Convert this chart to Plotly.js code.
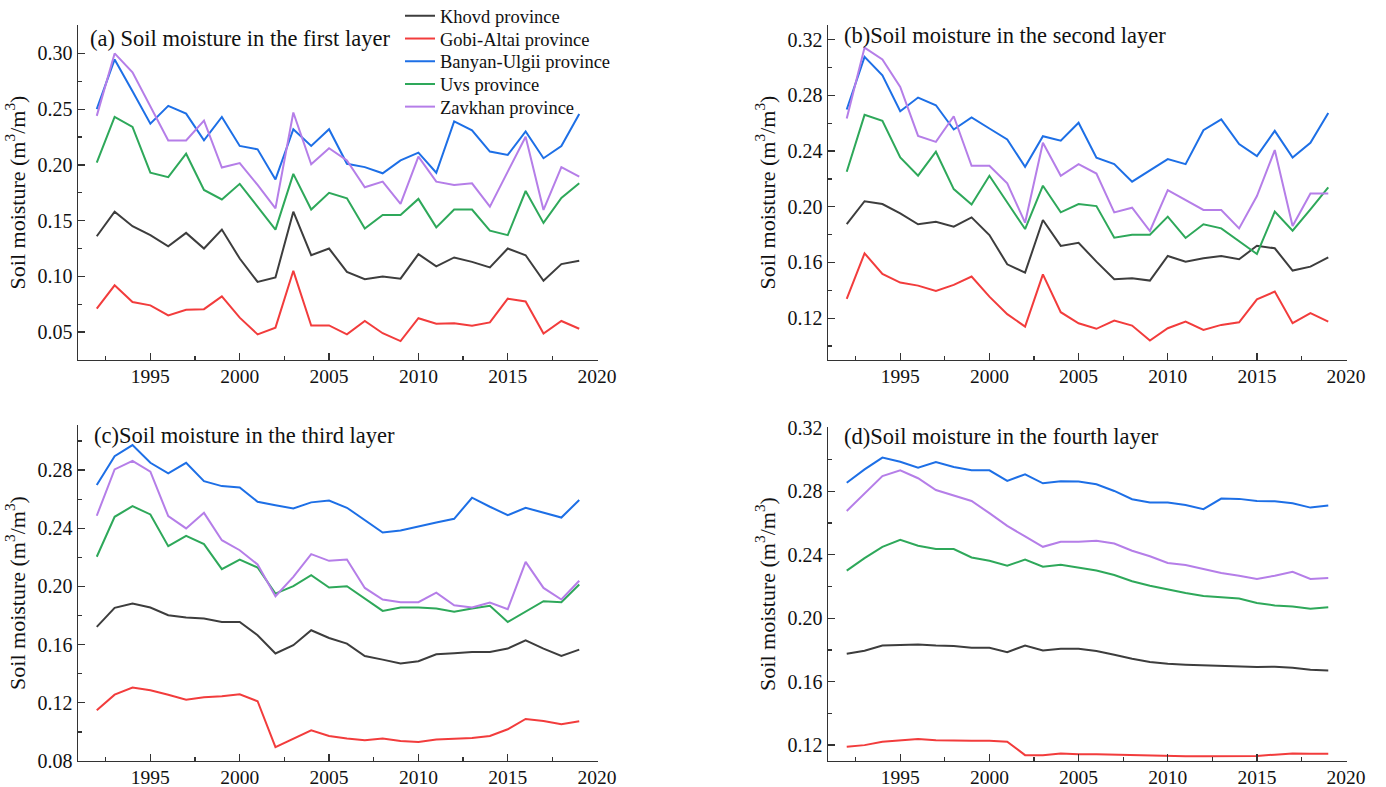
<!DOCTYPE html>
<html><head><meta charset="utf-8">
<script src="https://cdn.plot.ly/plotly-3.0.1.min.js"></script>
<style>html,body{margin:0;padding:0;background:#fff}#chart{width:1386px;height:787px}</style>
</head><body><div id="chart"></div>
<script>
const years = [1992,1993,1994,1995,1996,1997,1998,1999,2000,2001,2002,2003,2004,2005,2006,2007,2008,2009,2010,2011,2012,2013,2014,2015,2016,2017,2018,2019];
const provinces = ["Khovd province","Gobi-Altai province","Banyan-Ulgii province","Uvs province","Zavkhan province"];
const panelTitles = ["(a) Soil moisture in the first layer","(b)Soil moisture in the second layer","(c)Soil moisture in the third layer","(d)Soil moisture in the fourth layer"];
const yTitle = "Soil moisture (m<sup>3</sup>/m<sup>3</sup>)";

// Layer 1
const khovdL1 = [0.136,0.158,0.145,0.137,0.127,0.139,0.125,0.142,0.116,0.095,0.099,0.158,0.119,0.125,0.104,0.0975,0.100,0.098,0.120,0.109,0.117,0.113,0.108,0.125,0.119,0.096,0.111,0.114];
const gobiL1 = [0.071,0.092,0.077,0.074,0.065,0.070,0.0706,0.082,0.063,0.048,0.054,0.105,0.056,0.056,0.048,0.060,0.049,0.042,0.0625,0.0575,0.058,0.0557,0.0587,0.080,0.0775,0.0488,0.060,0.053];
const banyanL1 = [0.250,0.2946,0.266,0.237,0.253,0.246,0.222,0.243,0.217,0.214,0.187,0.232,0.217,0.232,0.201,0.198,0.1925,0.204,0.211,0.193,0.239,0.231,0.212,0.209,0.230,0.206,0.217,0.2456];
const uvsL1 = [0.202,0.243,0.234,0.193,0.189,0.210,0.1775,0.169,0.183,0.1626,0.142,0.192,0.160,0.175,0.170,0.143,0.155,0.155,0.1695,0.144,0.160,0.160,0.141,0.137,0.1766,0.148,0.1704,0.1835];
const zavkhanL1 = [0.244,0.300,0.283,0.252,0.222,0.222,0.2397,0.1976,0.2017,0.182,0.161,0.247,0.2005,0.215,0.204,0.180,0.185,0.165,0.2074,0.185,0.182,0.1835,0.1626,0.194,0.2253,0.1596,0.198,0.1895];

// Layer 2
const khovdL2 = [0.1876,0.204,0.202,0.1953,0.1874,0.1893,0.1857,0.1924,0.1797,0.1587,0.1527,0.1905,0.1719,0.1742,0.1606,0.148,0.1487,0.147,0.1647,0.1606,0.163,0.1647,0.1623,0.172,0.1702,0.1542,0.157,0.1637];
const gobiL2 = [0.1339,0.1666,0.1518,0.1456,0.1434,0.1396,0.1439,0.1499,0.1355,0.1229,0.114,0.1515,0.1243,0.1164,0.1124,0.1183,0.1147,0.104,0.1128,0.1176,0.1116,0.1152,0.1171,0.1336,0.1391,0.1164,0.1236,0.1176];
const banyanL2 = [0.2698,0.3076,0.2944,0.2686,0.2784,0.2729,0.2555,0.2641,0.2562,0.2483,0.2287,0.2507,0.2474,0.2603,0.2352,0.2306,0.218,0.2263,0.2342,0.2306,0.255,0.2627,0.245,0.2364,0.2545,0.2354,0.2459,0.2674];
const uvsL2 = [0.2251,0.266,0.2617,0.2354,0.2223,0.2395,0.2127,0.2017,0.2223,0.2034,0.184,0.2151,0.196,0.202,0.2005,0.1778,0.180,0.180,0.1929,0.1776,0.1874,0.1845,0.175,0.1661,0.1965,0.1828,0.1981,0.2139];
const zavkhanL2 = [0.2634,0.3143,0.3057,0.2861,0.2509,0.2466,0.265,0.2294,0.2294,0.2168,0.1886,0.2459,0.2223,0.2306,0.2239,0.196,0.1993,0.1826,0.212,0.2048,0.1977,0.1977,0.1845,0.2077,0.2407,0.1862,0.2096,0.2096];

// Layer 3
const khovdL3 = [0.1722,0.1853,0.1883,0.1855,0.1802,0.1786,0.1779,0.1756,0.1756,0.1665,0.1539,0.1596,0.1699,0.1646,0.1607,0.1522,0.1497,0.147,0.1486,0.1534,0.1541,0.155,0.155,0.1573,0.163,0.1573,0.1522,0.1566];
const gobiL3 = [0.1149,0.1256,0.1305,0.1286,0.1256,0.1222,0.1238,0.1245,0.1259,0.1211,0.0896,0.0954,0.1011,0.0972,0.0954,0.0942,0.0954,0.0938,0.0931,0.0947,0.0951,0.0958,0.0972,0.1018,0.1089,0.1075,0.1052,0.1073];
const banyanL3 = [0.2697,0.2896,0.2972,0.285,0.2777,0.285,0.2724,0.269,0.2681,0.2582,0.2559,0.2536,0.2578,0.2591,0.2541,0.2456,0.2371,0.2385,0.2415,0.244,0.2465,0.261,0.2548,0.249,0.2541,0.2506,0.2474,0.2594];
const uvsL3 = [0.2204,0.2479,0.2552,0.2495,0.2277,0.2348,0.2291,0.2119,0.2185,0.213,0.1951,0.2002,0.2078,0.1993,0.2002,0.1917,0.1832,0.1855,0.1855,0.1848,0.1827,0.1848,0.1867,0.1756,0.1825,0.1899,0.1892,0.2013];
const zavkhanL3 = [0.2486,0.2805,0.2864,0.2789,0.2483,0.2399,0.2506,0.2318,0.2249,0.2151,0.1933,0.2066,0.2222,0.2176,0.2185,0.199,0.191,0.1892,0.1892,0.1958,0.1871,0.1855,0.1889,0.1844,0.2169,0.199,0.191,0.2039];

// Layer 4
const khovdL4 = [0.1776,0.1795,0.1828,0.1832,0.1835,0.1828,0.1824,0.1814,0.1814,0.1786,0.1828,0.1797,0.1807,0.1807,0.1793,0.177,0.1744,0.1724,0.1713,0.1707,0.1703,0.1703,0.1698,0.1692,0.1694,0.1688,0.1675,0.1671];
const gobiL4 = [0.119,0.120,0.1221,0.1231,0.1238,0.1231,0.1227,0.1227,0.1227,0.1221,0.1137,0.1137,0.1148,0.1143,0.1143,0.114,0.1138,0.1136,0.1133,0.113,0.113,0.113,0.113,0.1132,0.114,0.1148,0.1146,0.1146];
const banyanL4 = [0.2854,0.2938,0.3012,0.2986,0.2949,0.2984,0.2953,0.2932,0.2932,0.2865,0.2907,0.285,0.2863,0.2861,0.2844,0.2802,0.275,0.2729,0.2729,0.2714,0.2687,0.2754,0.2752,0.2739,0.2737,0.2725,0.2697,0.271];
const uvsL4 = [0.230,0.2379,0.245,0.2494,0.2457,0.2436,0.2436,0.2383,0.2362,0.2331,0.2369,0.2325,0.2337,0.232,0.230,0.2272,0.2233,0.2205,0.218,0.2159,0.214,0.2132,0.2124,0.2096,0.208,0.2073,0.2059,0.2069];
const zavkhanL4 = [0.2676,0.2787,0.2896,0.2932,0.2882,0.2808,0.2775,0.2739,0.2662,0.2582,0.2515,0.245,0.2482,0.2482,0.2488,0.2471,0.2425,0.239,0.2348,0.2335,0.231,0.2285,0.2268,0.2247,0.2268,0.2293,0.2247,0.2253];

const layers = [
  [khovdL1, gobiL1, banyanL1, uvsL1, zavkhanL1],
  [khovdL2, gobiL2, banyanL2, uvsL2, zavkhanL2],
  [khovdL3, gobiL3, banyanL3, uvsL3, zavkhanL3],
  [khovdL4, gobiL4, banyanL4, uvsL4, zavkhanL4]
];

const colors = ["#3d3d3d", "#f23c3c", "#1d6fe6", "#2ea85a", "#b57ee8"];
const FONT = "Liberation Serif";
const W = 1386, H = 787;
const AX = "#333333";

// panel boxes in pixels: [left, right, top, bottom]
const boxes = [[78, 598, 25, 360], [828, 1347, 25, 360], [78, 598, 425, 761], [828, 1347, 427, 761]];
const yRanges = [[0.025, 0.3255], [0.09, 0.3305], [0.08, 0.311], [0.11, 0.3205]];
const yDticks = [0.05, 0.04, 0.04, 0.04];
const titlePos = [[88, 38], [842, 36], [92, 435], [842, 436]];

const traces = [];
layers.forEach((series, i) => {
  const sfx = i === 0 ? "" : String(i + 1);
  series.forEach((vals, p) => {
    const t = {
      type: "scatter", mode: "lines",
      x: years, y: vals,
      name: provinces[p],
      legendgroup: provinces[p],
      showlegend: i === 0,
      xaxis: "x" + sfx, yaxis: "y" + sfx,
      line: {color: colors[p], width: 2}
    };
    if (i === 0) t.legend = p === 0 ? "legend" : "legend" + (p + 1);
    traces.push(t);
  });
});

const layout = {
  width: W, height: H,
  margin: {l: 0, r: 0, t: 0, b: 0, autoexpand: false},
  paper_bgcolor: "#fff", plot_bgcolor: "#fff",
  font: {family: FONT, color: "#111", size: 20},
  showlegend: true,
  annotations: [],
};

provinces.forEach((_, p) => {
  const key = p === 0 ? "legend" : "legend" + (p + 1);
  layout[key] = {
    x: 400 / W, y: 1 - (16.3 + 22.7 * p) / H, xanchor: "left", yanchor: "middle",
    bgcolor: "rgba(0,0,0,0)", font: {family: FONT, size: 18.5, color: "#111"},
    tracegroupgap: 0, itemwidth: 30
  };
});

boxes.forEach((b, i) => {
  const sfx = i === 0 ? "" : String(i + 1);
  layout["xaxis" + sfx] = {
    domain: [b[0] / W, b[1] / W],
    anchor: "y" + sfx,
    range: [1990.95, 2020.05],
    tick0: 1995, dtick: 5,
    ticks: "inside", ticklen: 7, tickwidth: 1.3, tickcolor: AX,
    minor: {tick0: 1995, dtick: 2.5, ticks: "inside", ticklen: 4, tickwidth: 1.2, tickcolor: AX, showgrid: false},
    showline: true, linecolor: AX, linewidth: 1.4,
    showgrid: false, zeroline: false,
    tickfont: {family: FONT, size: 19.5, color: "#111"},
    ticklabelstandoff: -2,
    automargin: false
  };
  layout["yaxis" + sfx] = {
    domain: [1 - b[3] / H, 1 - b[2] / H],
    anchor: "x" + sfx,
    range: yRanges[i],
    tick0: 0, dtick: yDticks[i], tickformat: ".2f",
    ticks: "inside", ticklen: 7, tickwidth: 1.3, tickcolor: AX,
    minor: {dtick: yDticks[i] / 2, ticks: "inside", ticklen: 4, tickwidth: 1.2, tickcolor: AX, showgrid: false},
    showline: true, linecolor: AX, linewidth: 1.4,
    showgrid: false, zeroline: false,
    tickfont: {family: FONT, size: 20, color: "#111"},
    title: {text: yTitle, font: {family: FONT, size: 22, color: "#111"}, standoff: 6},
    automargin: false
  };
  layout.annotations.push({
    xref: "paper", yref: "paper",
    x: titlePos[i][0] / W, y: 1 - titlePos[i][1] / H,
    xanchor: "left", yanchor: "middle",
    text: panelTitles[i], showarrow: false,
    font: {family: FONT, size: 22.5, color: "#111"}
  });
});

Plotly.newPlot("chart", traces, layout, {displayModeBar: false, staticPlot: true});
</script>
</body></html>
